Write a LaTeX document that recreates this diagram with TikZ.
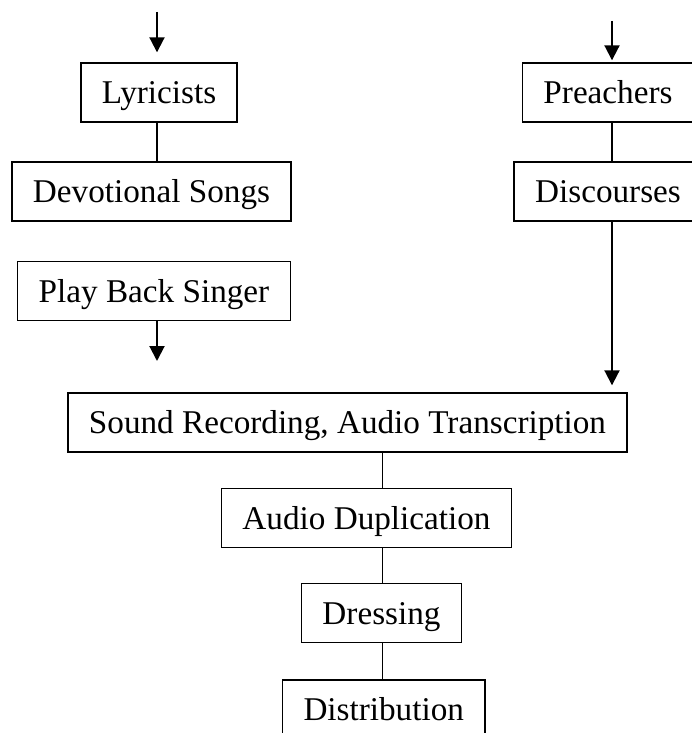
\documentclass[tikz,border=0pt]{standalone}
\usepackage{fontspec}
\setmainfont{Liberation Serif}
\usepackage{tikz}
\usetikzlibrary{arrows.meta}
\usetikzlibrary{calc}
\tikzset{stage/.style={draw,line width=0.7pt,inner xsep=10.5pt,inner ysep=0pt,minimum height=29.5pt,text height=11pt,text depth=0pt,font=\fontsize{16.6}{20}\selectfont},
	feed/.style={line width=1pt,-{Triangle[length=7.5pt,width=7.5pt]}},
	link/.style={line width=0.6pt}}

\begin{document}
\begin{tikzpicture}[x=0.5pt,y=-0.5pt]
				\def\lx{157};
				\def\rx{612};
				\def\mx{382.5};
				\useasboundingbox (0,0) rectangle (691,733);
				% left column
				\node[stage] (lyr) at (159,92.5) {Lyricists};
				\node[stage] (dev) at (151.5,191.5) {Devotional Songs};
				\node[stage] (play) at (154,291) {Play Back Singer};
				% right column
				\node[stage] (preach) at (608,92.5) {Preachers};
				\node[stage] (disc) at (608,191.5) {Discourses};
				% centre column
				\node[stage] (snd) at (347.5,422.5) {Sound Recording, Audio Transcription};
				\node[stage] (dup) at (366.5,518) {Audio Duplication};
				\node[stage] (dress) at (381.5,613) {Dressing};
				\node[stage] (dist) at (383.75,709.5) {Distribution};
				\coordinate (lyrtop) at (\lx,12);
				\coordinate (preachtop) at (\rx,21);
				\coordinate (playend) at (\lx,361);
				\coordinate (mid) at (\mx,0);
				\draw[feed,shorten >=5pt] (lyrtop) -- (lyrtop |- lyr.north);
				\draw[feed,shorten >=1pt] (preachtop) -- (preachtop |- preach.north);
				\draw[link] (lyrtop |- lyr.south) -- (lyrtop |- dev.north);
				\draw[link] (preachtop |- preach.south) -- (preachtop |- disc.north);
				\draw[feed] (lyrtop |- play.south) -- (playend);
				\draw[feed,shorten >=3.5pt] (preachtop |- disc.south) -- (preachtop |- snd.north);
				\draw[link] (mid |- snd.south) -- (mid |- dup.north)
				(mid |- dup.south) -- (mid |- dress.north)
				(mid |- dress.south) -- (mid |- dist.north);
			\end{tikzpicture}
\end{document}
